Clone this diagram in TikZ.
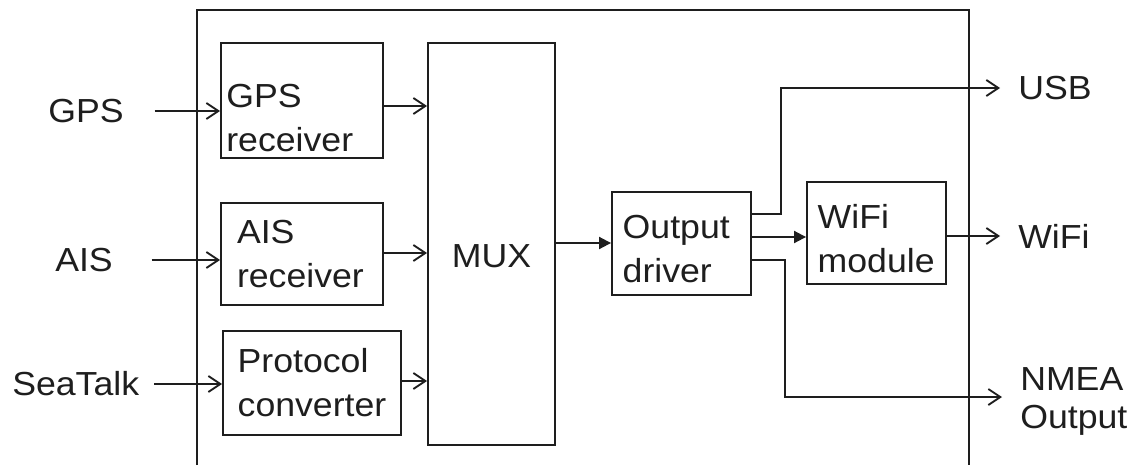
\documentclass[tikz,border=0pt]{standalone}
\usepackage{fontspec}
\setmainfont[FakeStretch=1.07]{Liberation Sans}
\usetikzlibrary{arrows.meta}
\definecolor{ink}{HTML}{1E1E1E}
\newcommand{\lift}[1]{\rule{0pt}{#1}}
\begin{document}
\begin{tikzpicture}[x=0.75pt,y=-0.75pt,
  every node/.style={text=ink, font=\fontsize{25pt}{33pt}\selectfont},
  blk/.style={draw=ink, line width=1.4pt, align=left, inner ysep=0pt},
  lbl/.style={inner sep=0pt, anchor=west, align=left},
  oarr/.style={draw=ink, line width=1.4pt, -{Straight Barb[length=9pt,width=12pt,line width=1.4pt]}},
  farr/.style={draw=ink, line width=1.4pt, -{Triangle[length=9pt,width=9pt]}},
  wire/.style={draw=ink, line width=1.4pt}]
\useasboundingbox (0,0) rectangle (1135,465);
% outer frame (open at the bottom)
\draw[wire] (197,465) -- (197,10) -- (969,10) -- (969,465);
% blocks
\node[blk, minimum height=86.25pt, inner xsep=4pt, text width=113.5pt] (gpsr) at (302,100.5) {\lift{43pt}GPS\\receiver};
\node[blk, minimum height=76.5pt, inner xsep=12pt, text width=97.5pt] (aisr) at (302,254) {AIS\\receiver};
\node[blk, minimum height=78pt, inner xsep=11pt, text width=111.5pt] (proto) at (312,383) {Protocol\\converter};
\node[blk, minimum width=95.25pt, minimum height=301.5pt, inner xsep=0pt, align=center] (mux) at (491.5,244) {\lift{36pt}MUX};
\node[blk, minimum height=77.25pt, inner xsep=8pt, text width=88.25pt] (outd) at (681.5,243.5) {\lift{26pt}Output\\driver};
\node[blk, minimum height=76.5pt, inner xsep=8pt, text width=88.25pt] (wifi) at (876.5,233) {\lift{27pt}WiFi\\module};
% external labels
\node[lbl] (gpsl) at (48,111) {GPS};
\node[lbl] (aisl) at (55,260) {AIS};
\node[lbl] (stl) at (12,384) {SeaTalk};
\node[lbl] (usbl) at (1018,88) {USB};
\node[lbl] (wifil) at (1018,236) {WiFi};
\node[lbl, font=\fontsize{25pt}{28.5pt}\selectfont] (nmeal) at (1020,401) {NMEA\\Output};
% inputs
\draw[oarr, shorten <=23pt] (gpsl.east) -- (gpsl.east -| gpsr.west);
\draw[oarr, shorten <=29pt] (aisl.east) -- (aisl.east -| aisr.west);
\draw[oarr, shorten <=11pt] (stl.east) -- (stl.east -| proto.west);
% into MUX
\draw[oarr] (gpsr.east |- 0,106) -- (mux.west |- 0,106);
\draw[oarr] (aisr.east |- 0,253) -- (mux.west |- 0,253);
\draw[oarr] (proto.east |- 0,381) -- (mux.west |- 0,381);
% MUX to output driver, to WiFi module
\draw[farr] (mux.east |- 0,243) -- (outd.west |- 0,243);
\draw[farr] (outd.east |- 0,237) -- (wifi.west |- 0,237);
% outputs
\draw[oarr, shorten >=13.5pt] (outd.east |- 0,214) -- (781,214) |- (usbl.west);
\draw[oarr, shorten >=13.5pt] (wifi.east |- wifil.west) -- (wifil.west);
\draw[oarr, shorten >=13.5pt] (outd.east |- 0,260) -- (785,260) |- ([yshift=3pt]nmeal.west);
\end{tikzpicture}
\end{document}
